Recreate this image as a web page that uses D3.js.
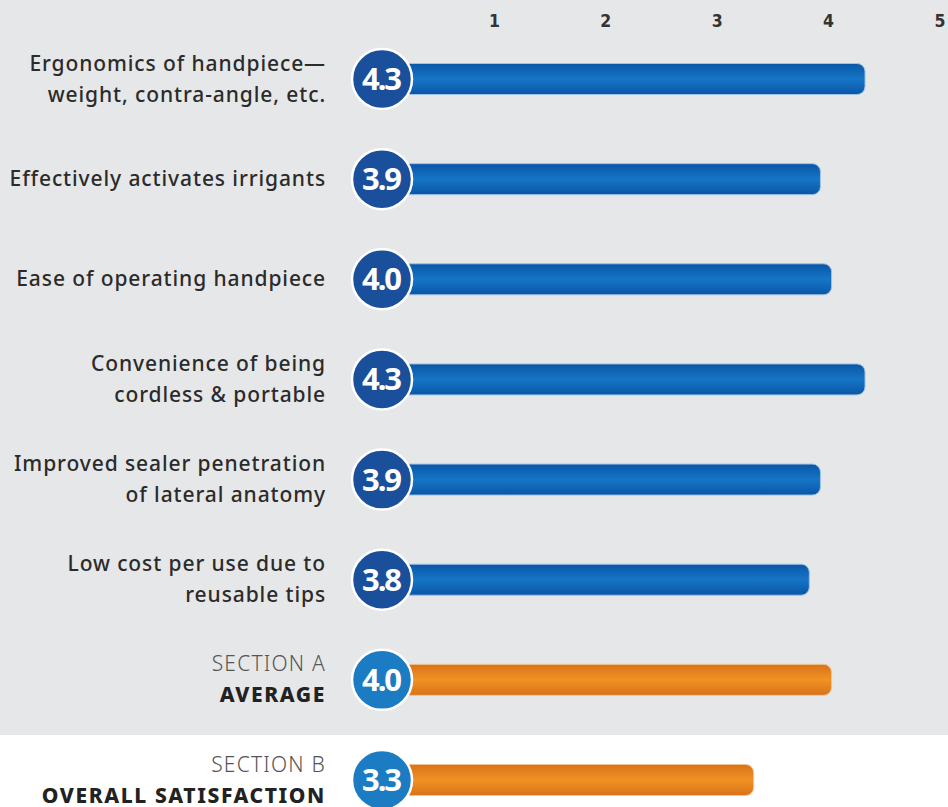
<!DOCTYPE html>
<html>
<head>
<meta charset="utf-8">
<script src="https://cdn.jsdelivr.net/npm/d3@7"></script>
<style>
  body { margin: 0; background: #fff; }
  svg { display: block; }
</style>
</head>
<body>
<div id="chart"></div>
<script>
const width = 948;
const height = 807;

// data
const labels = [
  ["Ergonomics of handpiece—", "weight, contra-angle, etc."],
  ["Effectively activates irrigants"],
  ["Ease of operating handpiece"],
  ["Convenience of being", "cordless & portable"],
  ["Improved sealer penetration", "of lateral anatomy"],
  ["Low cost per use due to", "reusable tips"],
  ["SECTION A", "AVERAGE"],
  ["SECTION B", "OVERALL SATISFACTION"]
];
const values = [4.3, 3.9, 4.0, 4.3, 3.9, 3.8, 4.0, 3.3];
const kinds  = ["item", "item", "item", "item", "item", "item", "section", "section"];
const ticks  = [1, 2, 3, 4, 5];

const svg = d3.select("#chart")
              .append("svg")
              .attr("width", width)
              .attr("height", height);

// grey panel behind the items + section A
svg.append("rect")
   .attr("x", 0).attr("y", 0)
   .attr("width", width).attr("height", 735)
   .attr("fill", "#e6e7e8");

const defs = svg.append("defs");
function grad(id, edge, mid) {
  const g = defs.append("linearGradient")
                .attr("id", id)
                .attr("x1", 0).attr("y1", 0).attr("x2", 0).attr("y2", 1);
  g.append("stop").attr("offset", "0%").attr("stop-color", edge);
  g.append("stop").attr("offset", "50%").attr("stop-color", mid);
  g.append("stop").attr("offset", "100%").attr("stop-color", edge);
}
grad("blueBar", "#0a56a6", "#1675c6");
grad("orangeBar", "#d8721a", "#f19222");

const xScale = d3.scaleLinear()
                 .domain([0, 5])
                 .range([386, 943]);

const yScale = d3.scalePoint()
                 .domain(d3.range(values.length))
                 .range([79, 780]);

// top axis labels
svg.append("g")
   .selectAll("text")
   .data(ticks)
   .enter()
   .append("text")
   .attr("x", d => xScale(d) - 3)
   .attr("y", 27)
   .attr("text-anchor", "middle")
   .attr("font-family", "'DejaVu Sans Condensed', 'DejaVu Sans', sans-serif")
   .attr("font-weight", "bold")
   .attr("font-size", "17.5px")
   .attr("fill", "#333")
   .text(d => d);

const rows = svg.selectAll(".row")
                .data(values)
                .enter()
                .append("g")
                .attr("class", "row")
                .attr("transform", (d, i) => `translate(0, ${yScale(i)})`);

const barH = 31;

rows.append("rect")
    .attr("x", xScale(0))
    .attr("y", -barH / 2)
    .attr("width", d => xScale(d) - xScale(0))
    .attr("height", barH)
    .attr("rx", 8)
    .attr("fill", (d, i) => kinds[i] === "item" ? "url(#blueBar)" : "url(#orangeBar)")
    .attr("stroke", (d, i) => kinds[i] === "item" ? "#9fc3e6" : "#f3c48e")
    .attr("stroke-width", 1);

rows.append("circle")
    .attr("cx", xScale(0) - 4)
    .attr("cy", 0)
    .attr("r", 30)
    .attr("fill", (d, i) => kinds[i] === "item" ? "#1a4f9b" : "#1b7cc3")
    .attr("stroke", "#fff")
    .attr("stroke-width", 2.5);

rows.append("text")
    .attr("x", xScale(0) - 5)
    .attr("y", 11)
    .attr("text-anchor", "middle")
    .attr("font-family", "'Noto Sans', sans-serif")
    .attr("font-weight", "bold")
    .attr("font-size", "31px")
    .attr("letter-spacing", "-2px")
    .attr("fill", "#fff")
    .text(d => d.toFixed(1));

// row labels
rows.each(function(d, i) {
  const lines = labels[i];
  const g = d3.select(this);
  const lineH = 31;
  const y0 = -(lines.length - 1) * lineH / 2 + 7;
  lines.forEach((line, j) => {
    const t = g.append("text")
               .attr("x", 326)
               .attr("y", y0 + j * lineH)
               .attr("text-anchor", "end")
               .attr("font-family", "'Noto Sans', sans-serif")
               .attr("font-size", "21px")
               .attr("letter-spacing", "0.9px")
               .text(line);
    if (kinds[i] === "item") {
      t.attr("font-weight", 500).attr("fill", "#2b2b2b");
    } else if (j === 0) {
      t.attr("font-weight", 300).attr("fill", "#555").attr("letter-spacing", "1.2px");
    } else {
      t.attr("font-weight", 800).attr("fill", "#222").attr("letter-spacing", "1.6px");
    }
  });
});
</script>
</body>
</html>
